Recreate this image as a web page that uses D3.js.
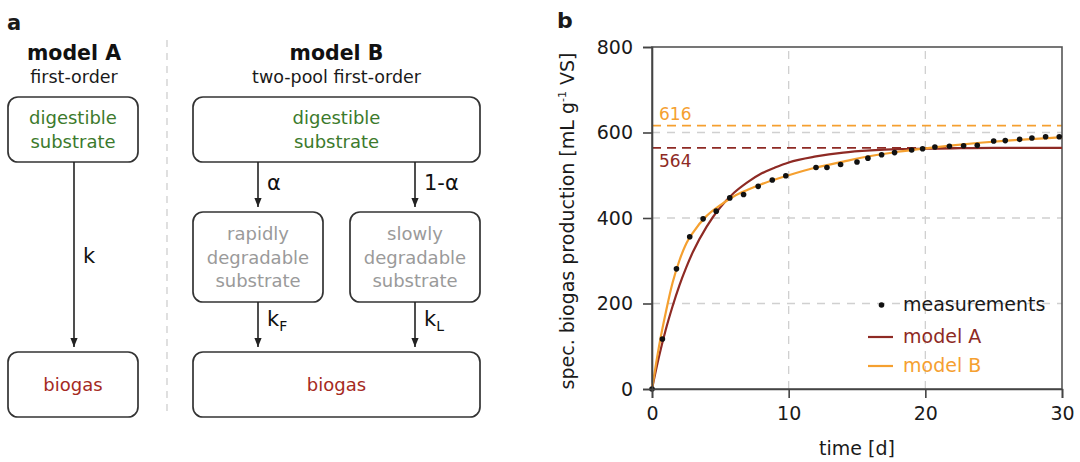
<!DOCTYPE html>
<html>
<head>
<meta charset="utf-8">
<script src="https://cdn.jsdelivr.net/npm/d3@7"></script>
<style>
  html, body { margin: 0; padding: 0; background: #fff; }
  svg { display: block; font-family: "DejaVu Sans", sans-serif; }
</style>
</head>
<body>
<svg id="fig" width="1080" height="462"></svg>
<script>
// ---- data -------------------------------------------------------------
// measured cumulative specific biogas production (day, mL/g VS)
const measDays = [0, 0.76, 1.79, 2.76, 3.74, 4.7, 5.69, 6.7, 7.77, 8.8, 9.79,
  12.0, 12.8, 13.8, 15.0, 15.8, 16.8, 17.75, 19.0, 19.8, 20.7, 21.76, 22.8, 23.8,
  25.0, 25.85, 26.9, 27.8, 28.8, 29.8];
const measValues = [0, 117, 281, 356, 398, 416, 447, 455, 474, 489, 499,
  518, 518, 525, 531, 540, 548, 553, 559, 562, 566, 568, 569, 570,
  580, 581, 584, 587, 590, 590];

// fitted model curves
const modelADays = [0, 0.5, 1, 1.5, 2, 2.5, 3, 4, 5, 6, 7, 8, 9, 10, 12, 14, 16, 18, 20, 22, 25, 30];
const modelAValues = [0, 74, 138, 193, 242, 284, 321, 380, 425, 459, 484, 504, 518, 530, 544, 553, 558, 561, 562, 563, 564, 564];

const modelBDays = [0, 0.3, 0.6, 1, 1.5, 2, 2.5, 3, 4, 5, 6, 7, 8, 9, 10, 12, 14, 16, 18, 20, 22, 24, 26, 28, 30];
const modelBValues = [0, 60, 115, 178, 248, 300, 340, 366, 405, 430, 451, 466, 479, 490, 500, 518, 532, 545, 555, 563, 570, 576, 581, 585, 589];

// asymptotic biogas potentials
const potentialA = 564;
const potentialB = 616;

const xTicks = [0, 10, 20, 30];
const yTicks = [0, 200, 400, 600, 800];

const colA = "#8e2a24";
const colB = "#f5a030";
const green = "#3c7a2c";
const gasRed = "#a52a22";
const boxStroke = "#333";
const ink = "#1a1a1a";

const svg = d3.select("#fig");

// ---- panel a: model schemes -------------------------------------------
const pa = svg.append("g");

pa.append("text").attr("x", 7).attr("y", 30)
  .attr("font-size", 21).attr("font-weight", "bold").attr("fill", ink).text("a");

// separator between the two schemes
pa.append("line").attr("x1", 167).attr("x2", 167).attr("y1", 40).attr("y2", 417)
  .attr("stroke", "#cfcfcf").attr("stroke-width", 1.3).attr("stroke-dasharray", "7,6");

const headers = [
  {x: 74, title: "model A", sub: "first-order"},
  {x: 336.5, title: "model B", sub: "two-pool first-order"}
];
headers.forEach(h => {
  pa.append("text").attr("x", h.x).attr("y", 60).attr("text-anchor", "middle")
    .attr("font-size", 20.5).attr("font-weight", "bold").attr("fill", "#111").text(h.title);
  pa.append("text").attr("x", h.x).attr("y", 83).attr("text-anchor", "middle")
    .attr("font-size", 17.5).attr("fill", ink).text(h.sub);
});

const boxes = [
  {x: 8, y: 97, w: 130, h: 65, lines: ["digestible", "substrate"], color: green},
  {x: 193, y: 97, w: 287, h: 65, lines: ["digestible", "substrate"], color: green},
  {x: 193, y: 212, w: 130, h: 90, lines: ["rapidly", "degradable", "substrate"], color: "#9a9a9a"},
  {x: 350, y: 212, w: 130, h: 90, lines: ["slowly", "degradable", "substrate"], color: "#9a9a9a"},
  {x: 8, y: 352, w: 130, h: 65, lines: ["biogas"], color: gasRed},
  {x: 193, y: 352, w: 287, h: 65, lines: ["biogas"], color: gasRed}
];
boxes.forEach(b => {
  pa.append("rect").attr("x", b.x).attr("y", b.y).attr("width", b.w).attr("height", b.h)
    .attr("rx", 10).attr("fill", "#fff").attr("stroke", boxStroke).attr("stroke-width", 1.7);
  const lh = b.lines.length === 3 ? 23.5 : 24;
  const cy = b.y + b.h / 2;
  b.lines.forEach((t, i) => {
    pa.append("text").attr("x", b.x + b.w / 2)
      .attr("y", cy + (i - (b.lines.length - 1) / 2) * lh + 6.5)
      .attr("text-anchor", "middle").attr("font-size", 18).attr("fill", b.color).text(t);
  });
});

svg.append("defs").append("marker")
  .attr("id", "arrow").attr("viewBox", "0 0 10 10").attr("refX", 10).attr("refY", 5)
  .attr("markerWidth", 9).attr("markerHeight", 11).attr("markerUnits", "userSpaceOnUse")
  .attr("orient", "auto")
  .append("path").attr("d", "M0,1 L10,5 L0,9 Z").attr("fill", "#222");

const arrows = [
  {x: 74, y1: 162, y2: 347},
  {x: 258, y1: 162, y2: 207},
  {x: 415, y1: 162, y2: 207},
  {x: 258, y1: 302, y2: 347},
  {x: 415, y1: 302, y2: 347}
];
arrows.forEach(a => {
  pa.append("line").attr("x1", a.x).attr("x2", a.x).attr("y1", a.y1).attr("y2", a.y2)
    .attr("stroke", "#222").attr("stroke-width", 1.6).attr("marker-end", "url(#arrow)");
});

function rateLabel(x, y, main, sub) {
  const t = pa.append("text").attr("x", x).attr("y", y).attr("font-size", 21).attr("fill", "#111");
  t.append("tspan").text(main);
  if (sub) t.append("tspan").attr("font-size", 14).attr("dy", 5).text(sub);
}
rateLabel(83, 263, "k");
rateLabel(267, 190, "α");
rateLabel(424, 190, "1-α");
rateLabel(267, 326, "k", "F");
rateLabel(424, 326, "k", "L");

// ---- panel b: biogas production curves --------------------------------
const x = d3.scaleLinear().domain([0, 30]).range([652, 1062]);
const y = d3.scaleLinear().domain([0, 800]).range([389, 47]);
const pb = svg.append("g");

pb.append("text").attr("x", 557).attr("y", 28)
  .attr("font-size", 22).attr("font-weight", "bold").attr("fill", ink).text("b");

// grid
pb.append("g").selectAll("line").data(xTicks.filter(d => d > 0 && d < 30)).join("line")
  .attr("x1", d => x(d)).attr("x2", d => x(d)).attr("y1", y(0)).attr("y2", y(800))
  .attr("stroke", "#d0d0d0").attr("stroke-width", 1.3).attr("stroke-dasharray", "8,7");
pb.append("g").selectAll("line").data(yTicks.filter(d => d > 0 && d < 800)).join("line")
  .attr("x1", x(0)).attr("x2", x(30)).attr("y1", d => y(d)).attr("y2", d => y(d))
  .attr("stroke", "#d0d0d0").attr("stroke-width", 1.3).attr("stroke-dasharray", "8,7");

// asymptote lines
[[potentialB, colB], [potentialA, colA]].forEach(([v, c]) => {
  pb.append("line").attr("x1", x(0)).attr("x2", x(30)).attr("y1", y(v)).attr("y2", y(v))
    .attr("stroke", c).attr("stroke-width", 1.8).attr("stroke-dasharray", "9,6");
});
pb.append("text").attr("x", x(0) + 7).attr("y", y(potentialB) - 6)
  .attr("font-size", 17).attr("fill", colB).text(potentialB);
pb.append("text").attr("x", x(0) + 7).attr("y", y(potentialA) + 19)
  .attr("font-size", 17).attr("fill", colA).text(potentialA);

// frame
pb.append("rect").attr("x", x(0)).attr("y", y(800)).attr("width", x(30) - x(0))
  .attr("height", y(0) - y(800)).attr("fill", "none").attr("stroke", "#555").attr("stroke-width", 1.6);

// model curves
const line = d3.line().x(d => x(d[0])).y(d => y(d[1])).curve(d3.curveMonotoneX);
pb.append("path").datum(d3.zip(modelADays, modelAValues)).attr("d", line)
  .attr("fill", "none").attr("stroke", colA).attr("stroke-width", 2.2);
pb.append("path").datum(d3.zip(modelBDays, modelBValues)).attr("d", line)
  .attr("fill", "none").attr("stroke", colB).attr("stroke-width", 2.2);

// measurements
pb.append("g").selectAll("circle").data(d3.zip(measDays, measValues)).join("circle")
  .attr("cx", d => x(d[0])).attr("cy", d => y(d[1])).attr("r", 2.8).attr("fill", "#111");

// axes
const yAxis = pb.append("g").attr("transform", `translate(${x(0)},0)`)
  .call(d3.axisLeft(y).tickValues(yTicks).tickSize(9).tickPadding(10));
const xAxis = pb.append("g").attr("transform", `translate(0,${y(0)})`)
  .call(d3.axisBottom(x).tickValues(xTicks).tickSize(9).tickPadding(9));
[yAxis, xAxis].forEach(ax => {
  ax.select(".domain").attr("stroke", "#444").attr("stroke-width", 1.6);
  ax.selectAll(".tick line").attr("stroke", "#444").attr("stroke-width", 1.6);
  ax.selectAll(".tick text").attr("font-size", 19).attr("fill", ink)
    .attr("font-family", "DejaVu Sans, sans-serif");
});

pb.append("text").attr("x", (x(0) + x(30)) / 2).attr("y", 455).attr("text-anchor", "middle")
  .attr("font-size", 19).attr("fill", ink).text("time [d]");

const yl = pb.append("text").attr("transform", "translate(574,221) rotate(-90)")
  .attr("text-anchor", "middle").attr("font-size", 19).attr("fill", ink);
yl.append("tspan").text("spec. biogas production  [mL g");
yl.append("tspan").attr("font-size", 11).attr("dy", -8).text("-1");
yl.append("tspan").attr("dy", 8).text(" VS]");

// legend
const lg = pb.append("g");
lg.append("circle").attr("cx", 881.5).attr("cy", 305).attr("r", 2.8).attr("fill", "#111");
lg.append("text").attr("x", 903).attr("y", 311).attr("font-size", 19).attr("fill", ink).text("measurements");
[[colA, "model A", 337], [colB, "model B", 366]].forEach(([c, t, yy]) => {
  lg.append("line").attr("x1", 868).attr("x2", 893).attr("y1", yy).attr("y2", yy)
    .attr("stroke", c).attr("stroke-width", 2.2);
  lg.append("text").attr("x", 903).attr("y", yy + 6).attr("font-size", 19).attr("fill", c).text(t);
});
</script>
</body>
</html>
